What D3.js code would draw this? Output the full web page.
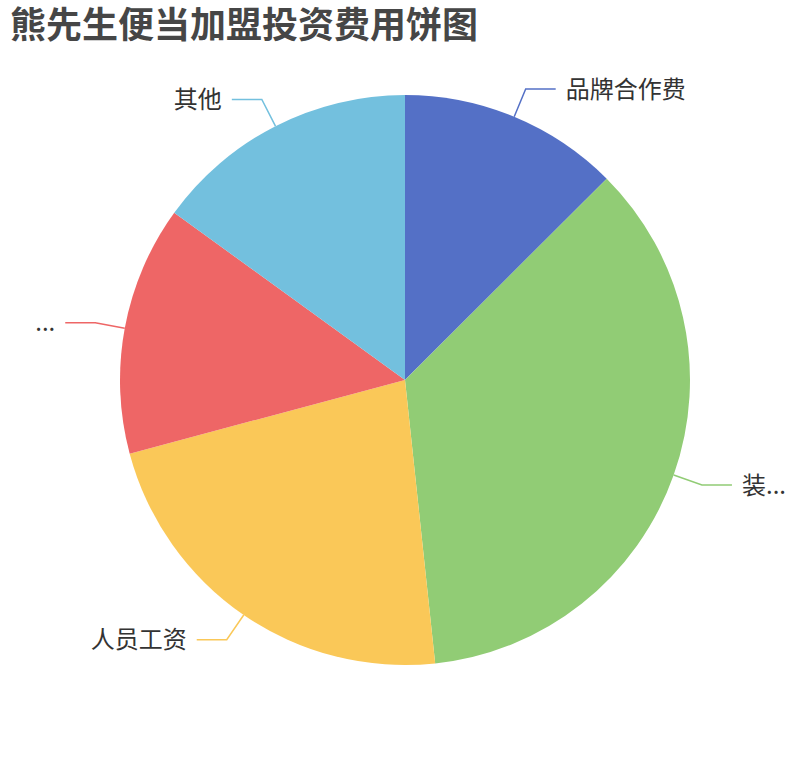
<!doctype html>
<html>
<head>
<meta charset="utf-8">
<title>熊先生便当加盟投资费用饼图</title>
<style>
    body { margin: 0; background: #fff; }
    svg text { font-family: "Noto Sans CJK SC", "Noto Sans", sans-serif; }
    .title { font-size: 36px; font-weight: bold; fill: #464646; }
    .label { font-size: 24px; fill: #333; }
</style>
</head>
<body>
<div id="chart"></div>
<script src="https://cdn.jsdelivr.net/npm/d3@7/dist/d3.min.js"></script>
<script>
// slice names as they appear on the chart (two are cut off by the renderer)
var categories = ["品牌合作费", "装...", "人员工资", "...", "其他"];
// amounts
var values = [5, 14.3, 9, 5.65, 6];
var colors = ["#5470c6", "#91cc75", "#fac858", "#ee6666", "#73c0de"];
var titleText = "熊先生便当加盟投资费用饼图";

var width = 810,
    height = 760,
    radius = 285,
    len1 = 30,
    len2 = 30;

var svg = d3.select("#chart").append("svg")
    .attr("width", width)
    .attr("height", height);

// Title
svg.append("text")
    .attr("class", "title")
    .attr("x", 10)
    .attr("y", 38)
    .text(titleText);

var g = svg.append("g")
    .attr("transform", "translate(" + width / 2 + "," + height / 2 + ")");

var color = d3.scaleOrdinal().domain(categories).range(colors);

var pie = d3.pie()
    .sort(null)
    .value(function(d) { return d.value; });

var arc = d3.arc().innerRadius(0).outerRadius(radius);

var data = categories.map(function(c, i) {
    return { name: c, value: values[i] };
});

var arcs = pie(data);

// Slices
g.selectAll("path.slice")
    .data(arcs)
    .enter().append("path")
    .attr("class", "slice")
    .attr("d", arc)
    .attr("fill", function(d) { return color(d.data.name); });

function mid(d) { return (d.startAngle + d.endAngle) / 2; }
function pt(a, r) { return [r * Math.sin(a), -r * Math.cos(a)]; }

// Label lines
g.selectAll("polyline")
    .data(arcs)
    .enter().append("polyline")
    .attr("fill", "none")
    .attr("stroke-width", 1.5)
    .attr("stroke", function(d) { return color(d.data.name); })
    .attr("points", function(d) {
        var a = mid(d),
            p0 = pt(a, radius),
            p1 = pt(a, radius + len1),
            dir = Math.sin(a) >= 0 ? 1 : -1,
            p2 = [p1[0] + dir * len2, p1[1]];
        return [p0, p1, p2].map(function(p) { return p.join(","); }).join(" ");
    });

// Labels
g.selectAll("text.label")
    .data(arcs)
    .enter().append("text")
    .attr("class", "label")
    .attr("dominant-baseline", "central")
    .attr("text-anchor", function(d) { return Math.sin(mid(d)) >= 0 ? "start" : "end"; })
    .attr("x", function(d) {
        var a = mid(d), dir = Math.sin(a) >= 0 ? 1 : -1;
        return pt(a, radius + len1)[0] + dir * (len2 + 10);
    })
    .attr("y", function(d) { return pt(mid(d), radius + len1)[1] - 2; })
    .text(function(d) { return d.data.name; });
</script>
</body>
</html>
